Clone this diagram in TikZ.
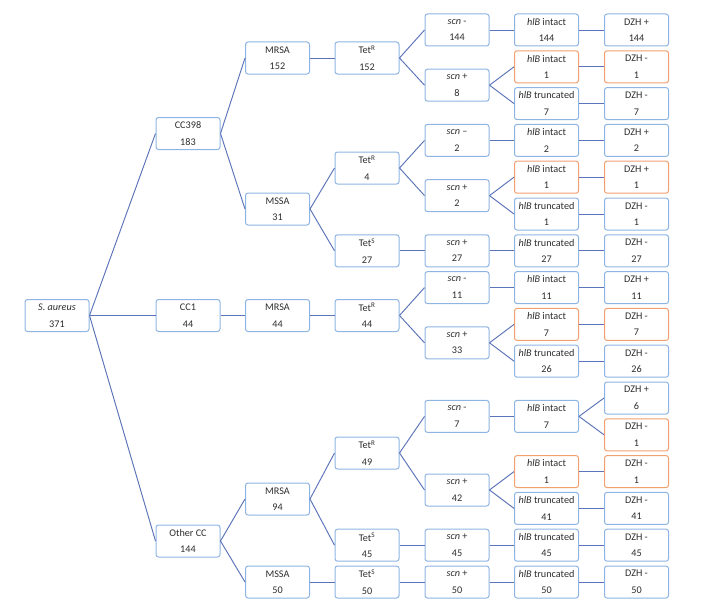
\documentclass[tikz,border=0pt]{standalone}
\usepackage{fontspec}
\setmainfont{Carlito}
\definecolor{boxblue}{HTML}{8EB4E3}
\definecolor{boxorange}{HTML}{F2A070}
\definecolor{linkblue}{HTML}{5B73B8}
\definecolor{txt}{HTML}{2E2E2E}
\begin{document}
\begin{tikzpicture}[x=1pt,y=-1pt,
  bx/.style={draw=boxblue,line width=1pt,rounded corners=2.5pt,fill=white,
    minimum width=64pt,minimum height=32pt,inner sep=1pt,align=center,
    text=txt,font=\fontsize{10.2}{16.5}\selectfont},
  ob/.style={bx,draw=boxorange},
  lk/.style={draw=linkblue,line width=0.95pt}]
\useasboundingbox (0,0) rectangle (706,610);
% column 1-3
\node[bx] (sa) at (57,315.5) {\textit{S. aureus}\\371};
\node[bx] (cc398) at (188,133.5) {CC398\\183};
\node[bx] (cc1) at (188,315.5) {CC1\\44};
\node[bx] (occ) at (188,541) {Other CC\\144};
\node[bx] (mrsa1) at (277.5,58) {MRSA\\152};
\node[bx] (mssa1) at (277.5,209) {MSSA\\31};
\node[bx] (mrsa2) at (277.5,315.5) {MRSA\\44};
\node[bx] (mrsa3) at (277.5,499) {MRSA\\94};
\node[bx] (mssa3) at (277.5,582) {MSSA\\50};
% Tet
\node[bx] (t1) at (367,58) {Tet\textsuperscript{R}\\152};
\node[bx] (t2) at (367,168) {Tet\textsuperscript{R}\\4};
\node[bx] (t3) at (367,250.8) {Tet\textsuperscript{S}\\27};
\node[bx] (t4) at (367,315.5) {Tet\textsuperscript{R}\\44};
\node[bx] (t5) at (367,453) {Tet\textsuperscript{R}\\49};
\node[bx] (t6) at (367,545.2) {Tet\textsuperscript{S}\\45};
\node[bx] (t7) at (367,582) {Tet\textsuperscript{S}\\50};
% scn
\node[bx] (s1) at (457,30) {\textit{scn} -\\144};
\node[bx] (s2) at (457,85.2) {\textit{scn} +\\8};
\node[bx] (s3) at (457,140.4) {\textit{scn} --\\2};
\node[bx] (s4) at (457,195.6) {\textit{scn} +\\2};
\node[bx] (s5) at (457,250.8) {\textit{scn} +\\27};
\node[bx] (s6) at (457,287.6) {\textit{scn} -\\11};
\node[bx] (s7) at (457,342.8) {\textit{scn} +\\33};
\node[bx] (s8) at (457,416.4) {\textit{scn} -\\7};
\node[bx] (s9) at (457,490) {\textit{scn} +\\42};
\node[bx] (s10) at (457,545.2) {\textit{scn} +\\45};
\node[bx] (s11) at (457,582) {\textit{scn} +\\50};
% hlB
\node[bx] (h1) at (546.5,30) {\textit{hlB} intact\\144};
\node[ob] (h2) at (546.5,66.8) {\textit{hlB} intact\\1};
\node[bx] (h3) at (546.5,103.6) {\textit{hlB} truncated\\7};
\node[bx] (h4) at (546.5,140.4) {\textit{hlB} intact\\2};
\node[ob] (h5) at (546.5,177.2) {\textit{hlB} intact\\1};
\node[bx] (h6) at (546.5,214) {\textit{hlB} truncated\\1};
\node[bx] (h7) at (546.5,250.8) {\textit{hlB} truncated\\27};
\node[bx] (h8) at (546.5,287.6) {\textit{hlB} intact\\11};
\node[ob] (h9) at (546.5,324.4) {\textit{hlB} intact\\7};
\node[bx] (h10) at (546.5,361.2) {\textit{hlB} truncated\\26};
\node[bx] (h11) at (546.5,416.4) {\textit{hlB} intact\\7};
\node[ob] (h12) at (546.5,471.6) {\textit{hlB} intact\\1};
\node[bx] (h13) at (546.5,508.4) {\textit{hlB} truncated\\41};
\node[bx] (h14) at (546.5,545.2) {\textit{hlB} truncated\\45};
\node[bx] (h15) at (546.5,582) {\textit{hlB} truncated\\50};
% DZH
\node[bx] (d1) at (636.5,30) {DZH +\\144};
\node[ob] (d2) at (636.5,66.8) {DZH -\\1};
\node[bx] (d3) at (636.5,103.6) {DZH -\\7};
\node[bx] (d4) at (636.5,140.4) {DZH +\\2};
\node[ob] (d5) at (636.5,177.2) {DZH +\\1};
\node[bx] (d6) at (636.5,214) {DZH -\\1};
\node[bx] (d7) at (636.5,250.8) {DZH -\\27};
\node[bx] (d8) at (636.5,287.6) {DZH +\\11};
\node[ob] (d9) at (636.5,324.4) {DZH -\\7};
\node[bx] (d10) at (636.5,361.2) {DZH -\\26};
\node[bx] (d11) at (636.5,398) {DZH +\\6};
\node[ob] (d12) at (636.5,434.8) {DZH -\\1};
\node[ob] (d13) at (636.5,471.6) {DZH -\\1};
\node[bx] (d14) at (636.5,508.4) {DZH -\\41};
\node[bx] (d15) at (636.5,545.2) {DZH -\\45};
\node[bx] (d16) at (636.5,582) {DZH -\\50};
% links
\foreach \a/\b in {sa/cc398,sa/cc1,sa/occ,cc398/mrsa1,cc398/mssa1,cc1/mrsa2,occ/mrsa3,occ/mssa3,
  mrsa1/t1,mssa1/t2,mssa1/t3,mrsa2/t4,mrsa3/t5,mrsa3/t6,mssa3/t7,
  t1/s1,t1/s2,t2/s3,t2/s4,t3/s5,t4/s6,t4/s7,t5/s8,t5/s9,t6/s10,t7/s11,
  s1/h1,s2/h2,s2/h3,s3/h4,s4/h5,s4/h6,s5/h7,s6/h8,s7/h9,s7/h10,s8/h11,s9/h12,s9/h13,s10/h14,s11/h15,
  h1/d1,h2/d2,h3/d3,h4/d4,h5/d5,h6/d6,h7/d7,h8/d8,h9/d9,h10/d10,h11/d11,h11/d12,h12/d13,h13/d14,h14/d15,h15/d16}
  \draw[lk] (\a.east) -- (\b.west);
\end{tikzpicture}
\end{document}
